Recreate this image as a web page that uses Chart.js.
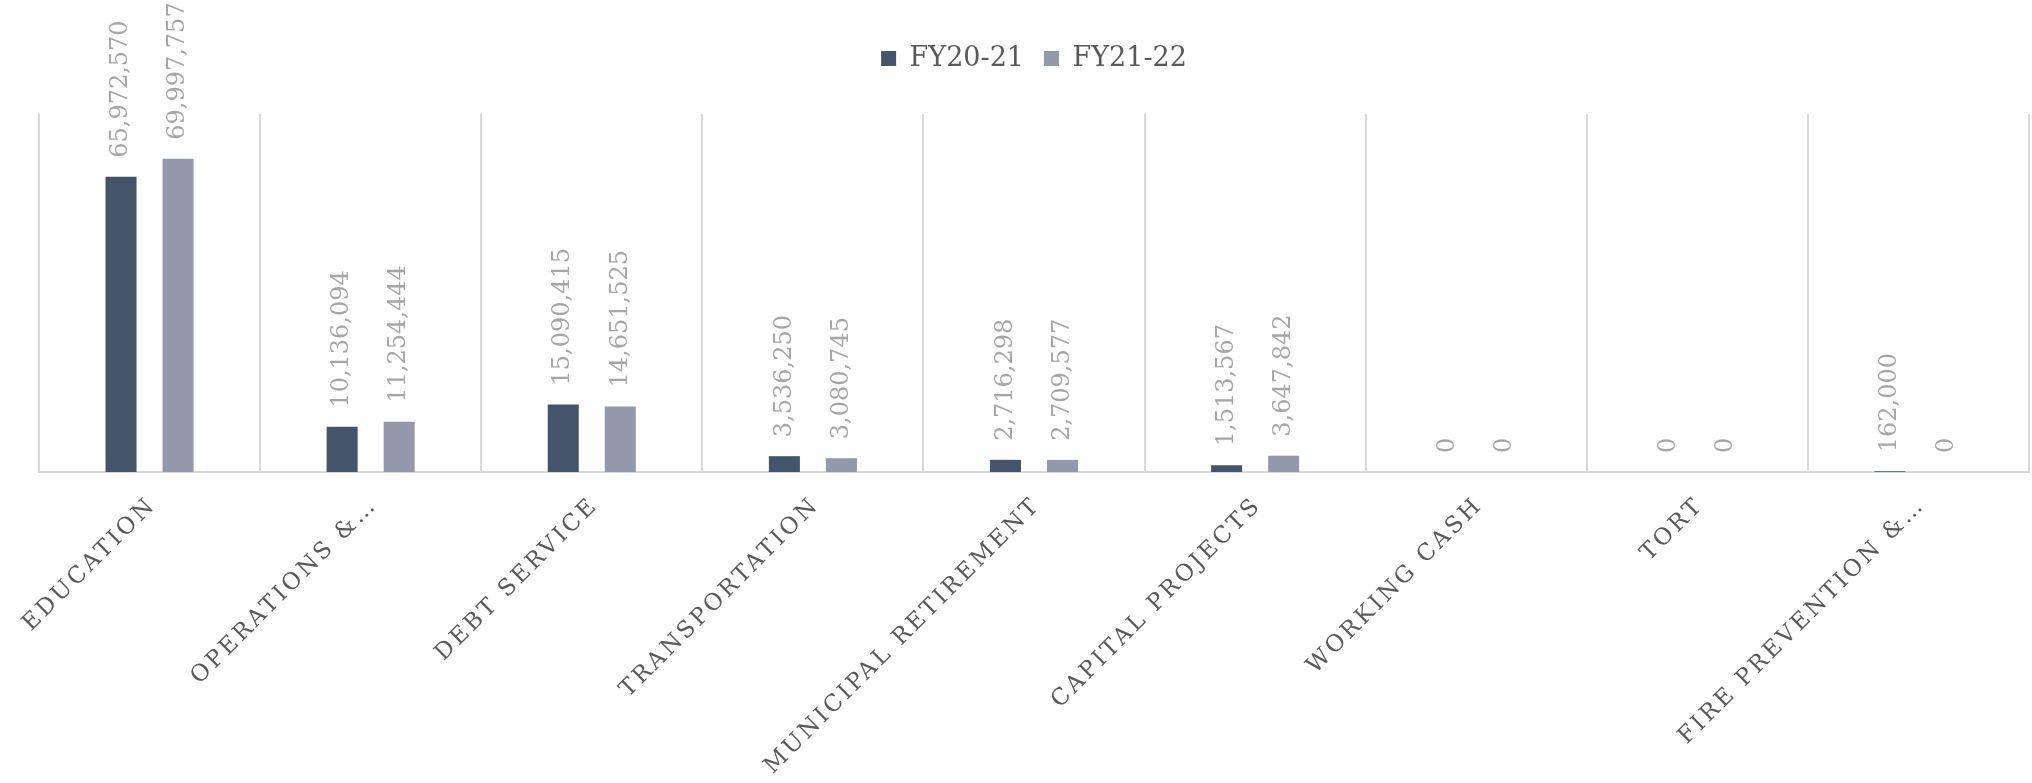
<!DOCTYPE html>
<html>
<head>
<meta charset="utf-8">
<script src="https://cdn.jsdelivr.net/npm/chart.js@4.4.1/dist/chart.umd.min.js"></script>
<style>
  html, body { margin: 0; padding: 0; background: #fff; }
  #wrap { width: 2032px; height: 783px; position: relative; }
</style>
</head>
<body>
<div id="wrap"><canvas id="fund-chart"></canvas></div>
<script>
// Fund totals by year
const categories = [
  'EDUCATION', 'OPERATIONS &…', 'DEBT SERVICE', 'TRANSPORTATION',
  'MUNICIPAL RETIREMENT', 'CAPITAL PROJECTS', 'WORKING CASH', 'TORT',
  'FIRE PREVENTION &…',
];
const fy2021 = [65972570, 10136094, 15090415, 3536250, 2716298, 1513567, 0, 0, 162000];
const fy2122 = [69997757, 11254444, 14651525, 3080745, 2709577, 3647842, 0, 0, 0];
const seriesNames = ['FY20-21', 'FY21-22'];

const SERIF = '"DejaVu Serif", "Liberation Serif", serif';

// rotated value labels over each bar, then letter spacing for the category labels
const valueLabels = {
  id: 'valueLabels',
  afterDatasetsDraw(chart) {
    const { ctx } = chart;
    ctx.save();
    ctx.font = `24px ${SERIF}`;
    ctx.fillStyle = '#a6a6a6';
    ctx.textAlign = 'left';
    ctx.textBaseline = 'middle';
    chart.data.datasets.forEach((ds, i) => {
      chart.getDatasetMeta(i).data.forEach((bar, j) => {
        ctx.save();
        ctx.translate(bar.x, bar.y - 19);
        ctx.rotate(-Math.PI / 2);
        ctx.fillText(ds.data[j].toLocaleString('en-US'), 0, 0);
        ctx.restore();
      });
    });
    ctx.restore();
    ctx.letterSpacing = '3px';
  },
  afterDraw(chart) {
    chart.ctx.letterSpacing = '0px';
  },
};

// extra room under the legend
const legendGap = {
  id: 'legendGap',
  beforeInit(chart) {
    const fit = chart.legend.fit;
    chart.legend.fit = function () {
      fit.bind(chart.legend)();
      this.height += 32;
    };
  },
};

new Chart(document.getElementById('fund-chart'), {
  type: 'bar',
  data: {
    labels: categories,
    datasets: [
      { label: seriesNames[0], data: fy2021, backgroundColor: '#44546a' },
      { label: seriesNames[1], data: fy2122, backgroundColor: '#9399ab' },
    ],
  },
  options: {
    responsive: true,
    maintainAspectRatio: false,
    animation: false,
    categoryPercentage: 0.516,
    barPercentage: 0.544,
    layout: { padding: { left: 39, right: 3, top: 25, bottom: 0 } },
    plugins: {
      legend: {
        position: 'top',
        labels: {
          boxWidth: 15,
          boxHeight: 15,
          padding: 20,
          color: '#595959',
          font: { family: SERIF, size: 27 },
        },
      },
      tooltip: { enabled: false },
    },
    scales: {
      x: {
        grid: { color: '#d9d9d9', lineWidth: 2, drawTicks: false, offset: true },
        border: { color: '#d9d9d9', width: 2 },
        ticks: {
          z: 1,
          color: '#595959',
          font: { family: SERIF, size: 23 },
          maxRotation: 45,
          minRotation: 45,
          autoSkip: false,
          padding: 20,
          labelOffset: 3,
        },
        afterFit: (scale) => { scale.height = 311; },
      },
      y: {
        display: false,
        min: 0,
        max: 80000000,
      },
    },
  },
  plugins: [valueLabels, legendGap],
});
</script>
</body>
</html>
